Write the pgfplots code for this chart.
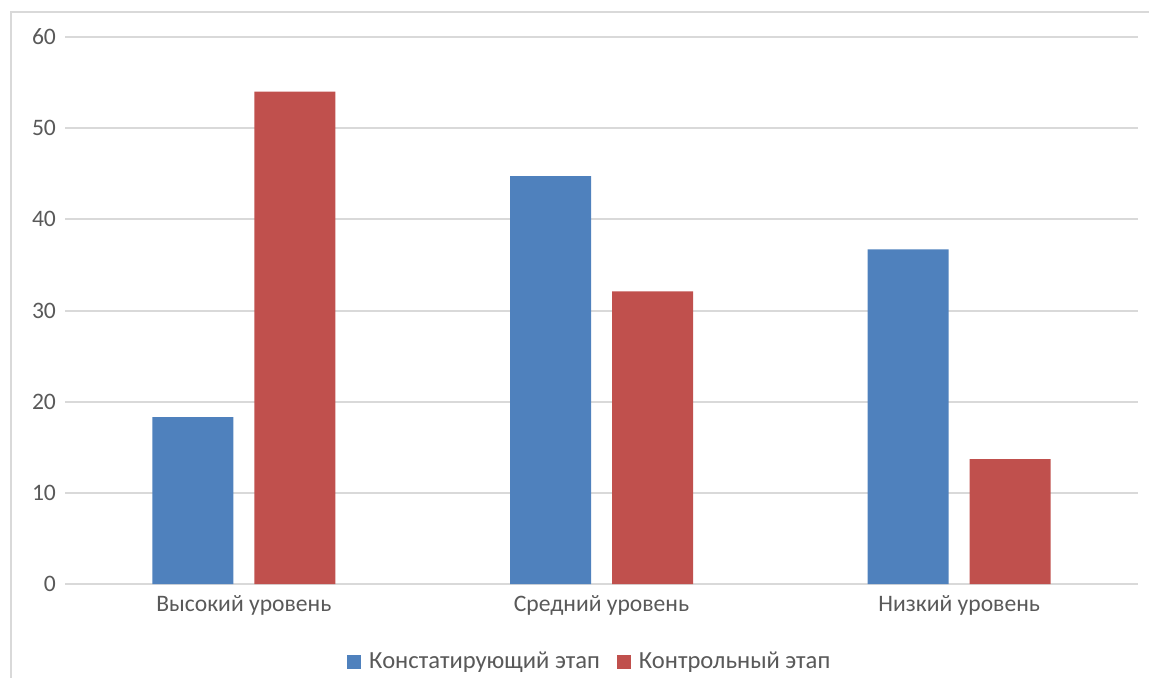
\documentclass[border=0pt]{standalone}
\usepackage{fontspec}
\setmainfont{Carlito}
\usepackage{pgfplots}
\pgfplotsset{compat=1.18}
\definecolor{cblue}{HTML}{4F81BD}
\definecolor{cred}{HTML}{C0504D}
\definecolor{gridc}{HTML}{D9D9D9}
\definecolor{txt}{HTML}{595959}
\begin{document}
\begin{tikzpicture}
\clip (0,0) rectangle (574.5pt,338.5pt);
\draw[gridc, line width=1pt] (5.5pt,-20pt) -- (5.5pt,332.5pt) -- (600pt,332.5pt);
\begin{axis}[
  at={(32.5pt,46.5pt)}, anchor=south west,
  scale only axis, width=536.5pt, height=273.5pt,
  ybar=10.5pt, bar width=40.5pt,
  xmin=-0.5, xmax=2.5, ymin=0, ymax=60,
  ytick={0,10,...,60},
  xtick=data,
  xticklabels={Высокий уровень, Средний уровень, Низкий уровень},
  axis line style={draw=none},
  major tick length=0pt,
  ymajorgrids, grid style={gridc, line width=1pt},
  extra y ticks={0}, extra y tick style={grid style={gridc,line width=1pt}, yticklabels={}},
  tick label style={font=\fontsize{11.8}{13}\selectfont, text=txt},
  /pgf/number format/assume math mode=true,
  yticklabel style={xshift=-1pt},
  xticklabel style={yshift=-2pt},
  legend style={at={(0.49,-0.1426)}, anchor=center, draw=none, legend columns=2,
    font=\fontsize{12.3}{13}\selectfont, text=txt,
    /tikz/every even column/.append style={column sep=6.5pt},
    /tikz/every odd column/.append style={column sep=2pt}},
  legend image code/.code={\fill[#1] (0pt,-3.5pt) rectangle (7pt,3.5pt);},
]
\addplot[fill=cblue, draw=none] coordinates {(0,18.3) (1,44.75) (2,36.7)};
\addplot[fill=cred, draw=none] coordinates {(0,54.0) (1,32.1) (2,13.7)};
\legend{Констатирующий этап, Контрольный этап}
\end{axis}
\end{tikzpicture}
\end{document}
